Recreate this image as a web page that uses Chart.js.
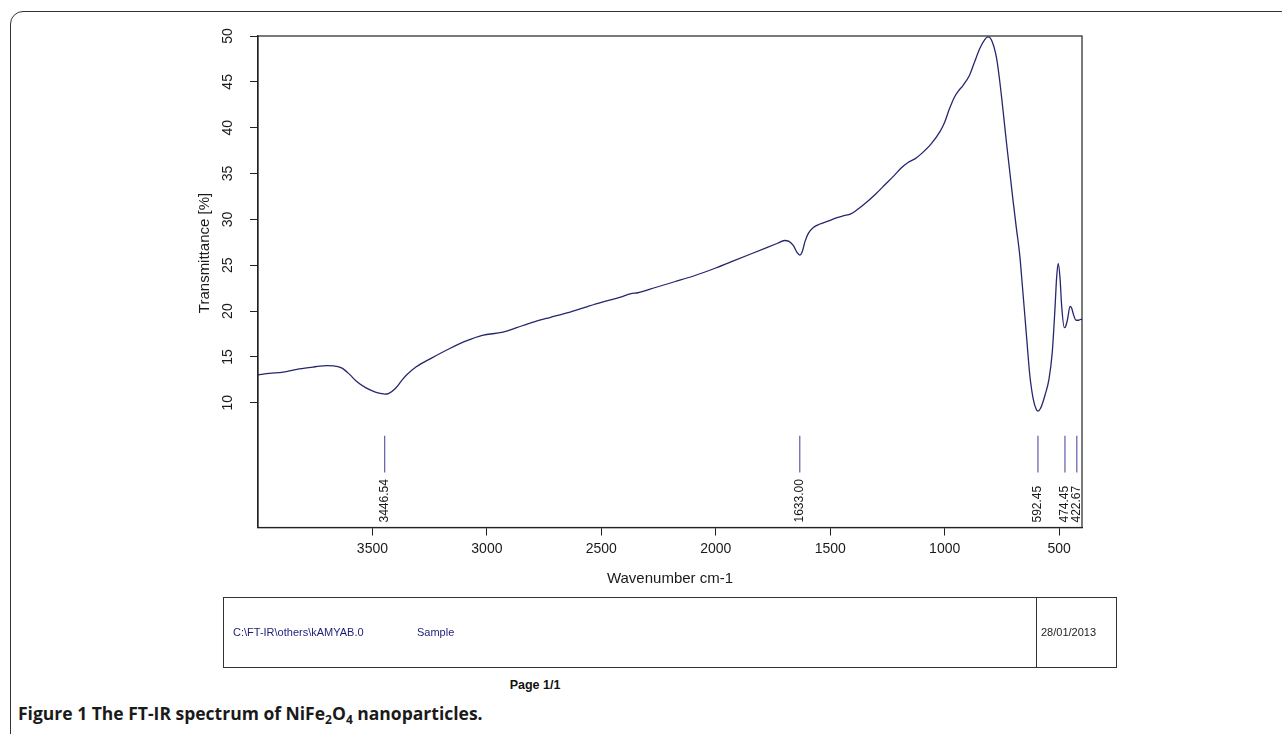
<!DOCTYPE html>
<html>
<head>
<meta charset="utf-8">
<script src="https://cdn.jsdelivr.net/npm/chart.js@4.4.1/dist/chart.umd.min.js"></script>
<style>
  html, body { margin: 0; padding: 0; background: #ffffff; }
  body { width: 1282px; height: 734px; position: relative; overflow: hidden; font-family: "Liberation Sans", Arial, sans-serif; }
  #frame { position: absolute; left: 10px; top: 11px; width: 1320px; height: 760px; border: 1.6px solid #333; border-radius: 13px; box-sizing: border-box; }
  #plot { position: absolute; left: 0; top: 0; }
  #infoBox { position: absolute; left: 223px; top: 597px; width: 894px; height: 71px; border: 1px solid #333; box-sizing: border-box; }
  #infoDivider { position: absolute; left: 812px; top: 0; width: 1px; height: 100%; background: #333; }
  .info { position: absolute; top: 28px; font-size: 11px; color: #1d1d78; white-space: nowrap; }
  #pageNo { position: absolute; left: 0; width: 1070px; top: 678px; text-align: center; font-weight: bold; font-size: 12.5px; color: #111; }
  #caption { position: absolute; left: 18px; top: 701px; font-family: "Open Sans", "Noto Sans", sans-serif; font-weight: 700; font-size: 17.5px; color: #1a1a1a; white-space: nowrap; }
  #caption sub { font-size: 12px; vertical-align: -4px; line-height: 0; }
</style>
</head>
<body>
<div id="frame"></div>
<canvas id="plot" width="1282" height="600"></canvas>
<div id="infoBox">
  <div class="info" style="left:9px">C:\FT-IR\others\kAMYAB.0</div>
  <div class="info" style="left:193px">Sample</div>
  <div id="infoDivider"></div>
  <div class="info" style="left:817px; color:#222">28/01/2013</div>
</div>
<div id="pageNo">Page 1/1</div>
<div id="caption">Figure 1 The FT-IR spectrum of NiFe<sub>2</sub>O<sub>4</sub> nanoparticles.</div>
<script>
// FT-IR spectrum, wavenumber (cm-1) against transmittance (%)
const wavenumbers = [
  4000, 3950, 3890, 3830, 3760, 3730, 3700, 3670, 3635, 3600,
  3570, 3530, 3490, 3460, 3446, 3430, 3400, 3370, 3350, 3310,
  3240, 3160, 3090, 3020, 2930, 2870, 2790, 2725, 2650, 2560,
  2500, 2420, 2370, 2340, 2260, 2180, 2100, 2000, 1920, 1850,
  1780, 1730, 1700, 1680, 1660, 1645, 1633, 1622, 1610, 1595,
  1575, 1545, 1510, 1470, 1440, 1410, 1380, 1340, 1300, 1260,
  1220, 1190, 1160, 1130, 1100, 1060, 1020, 1000, 980, 958,
  940, 920, 892, 869, 847, 825, 811, 796, 774, 760,
  745, 731, 716, 701, 687, 672, 660, 650, 638, 628,
  613, 600, 592, 581, 562, 544, 530, 518, 511, 504,
  496, 489, 477, 472, 464, 452, 445, 437, 426, 415,
  405, 400
];
const transmittance = [
  13.05, 13.2, 13.35, 13.65, 13.9, 14.0, 14.05, 14.03, 13.8, 13.1,
  12.35, 11.65, 11.2, 11.0, 10.95, 11.0, 11.55, 12.5, 13.05, 13.9,
  14.9, 15.95, 16.75, 17.35, 17.7, 18.2, 18.85, 19.3, 19.8, 20.5,
  20.95, 21.5, 21.9, 22.0, 22.6, 23.2, 23.8, 24.7, 25.5, 26.2,
  26.9, 27.4, 27.7, 27.6, 27.1, 26.4, 26.1, 26.5, 27.6, 28.5,
  29.1, 29.5, 29.8, 30.2, 30.4, 30.6, 31.1, 31.9, 32.8, 33.8,
  34.8, 35.6, 36.2, 36.6, 37.2, 38.2, 39.6, 40.6, 42.0, 43.3,
  44.0, 44.6, 45.7, 47.2, 48.6, 49.6, 49.9, 49.6, 47.7, 45.2,
  41.9, 38.6, 35.3, 32.0, 29.1, 26.1, 22.6, 19.6, 15.9, 13.0,
  10.4, 9.3, 9.1, 9.4, 10.8, 12.6, 15.5, 20.3, 23.6, 25.2,
  23.6, 20.6, 18.2, 18.3, 19.0, 20.5, 20.3, 19.6, 19.0, 19.0,
  19.1, 19.1
];
const xTickValues = [3500, 3000, 2500, 2000, 1500, 1000, 500];
const yTickValues = [10, 15, 20, 25, 30, 35, 40, 45, 50];
const peakPositions = [3446.54, 1633.00, 592.45, 474.45, 422.67];

// vertical extent of the short peak-pick markers (transmittance units)
const markTop = 6.4;
const markBottom = 2.4;

const spectrum = wavenumbers.map((w, i) => ({ x: w, y: transmittance[i] }));
const peakMarks = peakPositions.flatMap(p => [{ x: p, y: markTop }, { x: p, y: markBottom }, { x: p, y: null }]);

const axisFont = '"Liberation Sans", Arial, sans-serif';

const spectrumText = {
  id: 'spectrumText',
  afterDraw(chart) {
    const { ctx, chartArea: a, scales: { x, y } } = chart;
    ctx.save();
    // box around the plotting area
    ctx.strokeStyle = '#222';
    ctx.lineWidth = 1.2;
    ctx.strokeRect(a.left, a.top, a.right - a.left, a.bottom - a.top);

    ctx.fillStyle = '#1a1a1a';
    // y tick labels, written vertically
    ctx.font = '14px ' + axisFont;
    ctx.textAlign = 'center';
    ctx.textBaseline = 'middle';
    yTickValues.forEach(v => {
      ctx.save();
      ctx.translate(228, y.getPixelForValue(v));
      ctx.rotate(-Math.PI / 2);
      ctx.fillText(String(v), 0, 0);
      ctx.restore();
    });
    // y axis title
    ctx.save();
    ctx.font = '15px ' + axisFont;
    ctx.translate(205, 253);
    ctx.rotate(-Math.PI / 2);
    ctx.fillText('Transmittance [%]', 0, 0);
    ctx.restore();

    // x tick labels
    ctx.font = '14px ' + axisFont;
    xTickValues.forEach(v => {
      ctx.fillText(String(v), x.getPixelForValue(v), a.bottom + 22);
    });
    ctx.font = '15px ' + axisFont;
    ctx.fillText('Wavenumber cm-1', (a.left + a.right) / 2, a.bottom + 51);

    // peak labels
    ctx.font = '12px ' + axisFont;
    ctx.textAlign = 'left';
    peakPositions.forEach(p => {
      ctx.save();
      ctx.translate(x.getPixelForValue(p), a.bottom - 5);
      ctx.rotate(-Math.PI / 2);
      ctx.fillText(p.toFixed(2), 0, 0);
      ctx.restore();
    });
    ctx.restore();
  }
};

new Chart(document.getElementById('plot'), {
  type: 'line',
  data: {
    datasets: [
      {
        label: 'Transmittance',
        data: spectrum,
        borderColor: '#26266e',
        borderWidth: 1.3,
        pointRadius: 0,
        cubicInterpolationMode: 'monotone',
        clip: false
      },
      {
        label: 'Peaks',
        data: peakMarks,
        borderColor: '#5c5cab',
        borderWidth: 1.2,
        pointRadius: 0,
        spanGaps: false,
        tension: 0
      }
    ]
  },
  options: {
    responsive: false,
    animation: false,
    devicePixelRatio: 1,
    layout: { padding: { left: 0, top: 36, right: 200, bottom: 0 } },
    plugins: { legend: { display: false }, tooltip: { enabled: false } },
    scales: {
      x: {
        type: 'linear',
        reverse: true,
        min: 400,
        max: 4000,
        afterBuildTicks: s => { s.ticks = xTickValues.map(v => ({ value: v })); },
        afterFit: s => { s.height = 72.5; },
        ticks: { display: false },
        grid: { drawOnChartArea: false, drawTicks: true, tickLength: 8, color: '#222', lineWidth: 1 },
        border: { display: true, color: '#222', width: 1.2 }
      },
      y: {
        type: 'linear',
        min: -3.6,
        max: 50,
        afterBuildTicks: s => { s.ticks = yTickValues.map(v => ({ value: v })); },
        afterFit: s => { s.width = 258; },
        ticks: { display: false },
        grid: { drawOnChartArea: false, drawTicks: true, tickLength: 8, color: '#222', lineWidth: 1 },
        border: { display: true, color: '#222', width: 1.2 }
      }
    }
  },
  plugins: [spectrumText]
});
</script>
</body>
</html>
